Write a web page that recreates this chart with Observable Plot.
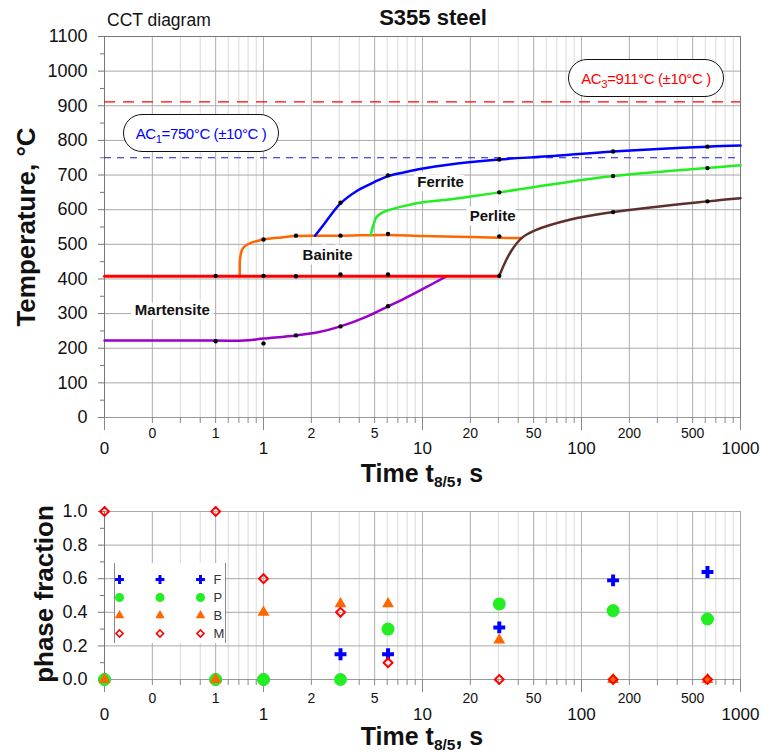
<!DOCTYPE html>
<html>
<head>
<meta charset="utf-8">
<script src="https://cdn.jsdelivr.net/npm/d3@7"></script>
<script src="https://cdn.jsdelivr.net/npm/@observablehq/plot@0.6"></script>
<style>
  body { margin: 0; background: #fff; font-family: "Liberation Sans", Arial, sans-serif; }
  #wrap { position: relative; width: 762px; height: 756px; overflow: hidden; background: #fff; }
  .abs { position: absolute; white-space: nowrap; line-height: 1; color: #111; }
  .ylab { font-weight: bold; font-size: 26px; transform: translate(-50%, -50%) rotate(-90deg); }
  .xlab { font-weight: bold; font-size: 25px; transform: translateX(-50%); }
  .xlab sub { font-size: 62%; vertical-align: -0.3em; }
  .acbox { box-sizing: border-box; width: 156px; height: 38px; border: 1.5px solid #111; border-radius: 19px;
           background: #fff; display: flex; align-items: center; justify-content: center;
           font-size: 15px; letter-spacing: -0.4px; }
  .acbox sub { font-size: 75%; vertical-align: -0.35em; line-height: 0; }
  #legend { box-sizing: border-box; width: 112px; height: 80px; background: #fff;
            border-left: 1px solid #888; border-right: 1px solid #888; }
</style>
</head>
<body>
<div id="wrap">
  <div id="topChart" class="abs" style="left:0;top:0"></div>
  <div id="bottomChart" class="abs" style="left:0;top:490px"></div>

  <div class="abs" style="left:107px;top:12px;font-size:17.5px">CCT diagram</div>
  <div class="abs" style="left:433px;top:7px;font-size:22px;font-weight:bold;transform:translateX(-50%)">S355 steel</div>
  <div class="abs ylab" style="left:26px;top:227px">Temperature, °C</div>
  <div class="abs xlab" style="left:422px;top:461px">Time t<sub>8/5</sub>, s</div>
  <div class="abs ylab" style="left:44px;top:594px">phase fraction</div>
  <div class="abs xlab" style="left:422px;top:724px">Time t<sub>8/5</sub>, s</div>

  <div class="abs acbox" style="left:123px;top:114px;color:#0000ff"><span>AC<sub>1</sub>=750°C (±10°C )</span></div>
  <div class="abs acbox" style="left:568px;top:59px;color:#ff0000"><span>AC<sub>3</sub>=911°C (±10°C )</span></div>

  <div id="legend" class="abs" style="left:114px;top:563px"></div>
</div>
<script>
// ---------- axis ticks & labels ----------
const decadeTicks = [0.1, 1, 10, 100, 1000];
const decadeLabels = ["0", "1", "10", "100", "1000"];
const midTicks = [0.2, 0.5, 2, 5, 20, 50, 200, 500];
const midLabels = ["0", "1", "2", "5", "20", "50", "200", "500"];
const tempTicks = [0, 100, 200, 300, 400, 500, 600, 700, 800, 900, 1000, 1100];
const tempMinorTicks = [50, 150, 250, 350, 450, 550, 650, 750, 850, 950, 1050];
const fracTicks = [0, 0.2, 0.4, 0.6, 0.8, 1.0];
const fracMinorTicks = [0.1, 0.3, 0.5, 0.7, 0.9];

// ---------- critical temperatures ----------
const ac3 = 911;
const ac1 = 750;

// ---------- CCT curves (time s, temperature °C) ----------
const msT = [0.1, 30.4];
const msC = [408, 408];

const martT = [0.1, 0.5, 0.75, 1.0, 1.6, 2.2, 3.05, 4.5, 6.07, 7.37, 9.86, 14.2];
const martC = [222, 222, 222, 228, 237, 246, 263, 292, 321, 339, 369, 408];

const bainT = [0.71, 0.71, 0.72, 0.74, 0.8, 0.9, 1.0, 1.3, 1.6, 2.1, 3.05, 6.07, 10, 20, 30.4, 42];
const bainC = [408, 450, 472, 488, 501, 509, 514, 520, 524, 525, 525, 527, 524, 521, 519, 518];

const ferT = [2.11, 2.42, 3.05, 3.93, 5.0, 6.07, 7.73, 9.86, 14.5, 30.4, 62, 158, 620, 1000];
const ferC = [525, 560, 618, 656, 680, 697, 708, 718, 730, 745, 754, 768, 782, 785];

const perT = [4.72, 4.8, 4.89, 5.13, 5.51, 6.07, 7.73, 9.86, 15.2, 30.4, 158, 620, 1000];
const perC = [527, 540, 554, 578, 590, 598, 611, 621, 630, 650, 697, 720, 728];

const perEndT = [30.4, 33, 36.4, 42, 51, 83, 158, 620, 1000];
const perEndC = [409, 447, 483, 518, 540, 570, 593, 624, 633];

// measured points
const ptT = [0.5, 1, 1.6, 3.05, 6.07,
             0.5, 1, 1.6, 3.05, 6.07, 30.4,
             1, 1.6, 3.05, 6.07, 30.4,
             3.05, 6.07, 30.4, 158, 620,
             30.4, 158, 620,
             158, 620];
const ptC = [220, 214, 237, 263, 321,
             409, 409, 408, 413, 413, 409,
             514, 525, 525, 530, 523,
             620, 699, 745, 768, 782,
             650, 697, 720,
             593, 624];

// region labels
const regionNames = ["Ferrite", "Perlite", "Bainite", "Martensite"];
const regionT = [13.0, 27.6, 2.53, 0.267];
const regionC = [678, 580, 468, 309];

// ---------- phase fractions ----------
const fracTime = [0.1, 0.5, 1, 3.05, 6.07, 30.4, 158, 620];
const fracF = [0, 0, 0, 0.15, 0.15, 0.31, 0.59, 0.64];
const fracP = [0, 0, 0, 0, 0.30, 0.45, 0.41, 0.36];
const fracB = [0, 0, 0.40, 0.45, 0.45, 0.235, 0, 0];
const fracM = [1, 1, 0.60, 0.40, 0.10, 0, 0, 0];
const phaseNames = ["F", "P", "B", "M"];
const legendCols = [0, 1, 2];

// ---------- helpers ----------
const zip = (xs, ys) => xs.map((x, i) => ({x, y: ys[i]}));
const FONT = "Liberation Sans, Arial, sans-serif";
const gridMinorColor = "#dadada";
const gridMajorColor = "#b4b4b4";
const gridHColor = "#a8a8a8";

function xAxisMarks(dyMid, dyDec) {
  return [
    Plot.axisX({tickSize: 6, tickFormat: () => "", label: null, stroke: "#888"}),
    Plot.axisX({ticks: decadeTicks, tickSize: 13, tickFormat: () => "", label: null, stroke: "#888"}),
    Plot.text(midTicks, {x: d => d, text: (d, i) => midLabels[i], frameAnchor: "bottom",
      dy: dyMid, fontSize: 14, lineAnchor: "middle", fill: "#111"}),
    Plot.text(decadeTicks, {x: d => d, text: (d, i) => decadeLabels[i], frameAnchor: "bottom",
      dy: dyDec, fontSize: 17, lineAnchor: "middle", fill: "#111"})
  ];
}

// ---------- top chart ----------
const curves = [
  {T: martT, C: martC, color: "#9900cc", w: 2.5},
  {T: bainT, C: bainC, color: "#ff6600", w: 2.5},
  {T: ferT, C: ferC, color: "#0000ff", w: 2.5},
  {T: perT, C: perC, color: "#22ee22", w: 2.5},
  {T: perEndT, C: perEndC, color: "#5e2f2f", w: 2.5},
  {T: msT, C: msC, color: "#ff0000", w: 3}
];

const cctPlot = Plot.plot({
  width: 762, height: 490,
  marginLeft: 104, marginRight: 22, marginTop: 36, marginBottom: 73,
  x: {type: "log", domain: [0.1, 1000]},
  y: {domain: [0, 1100]},
  style: {fontFamily: FONT, fontSize: "14px", background: "transparent", overflow: "visible", color: "#111"},
  marks: [
    Plot.gridX({stroke: gridMinorColor, strokeOpacity: 1}),
    Plot.gridX({ticks: [...decadeTicks, ...midTicks], stroke: gridMajorColor, strokeOpacity: 1}),
    Plot.gridY({ticks: tempTicks, stroke: gridHColor, strokeOpacity: 1}),
    Plot.frame({stroke: "#777"}),
    Plot.ruleX([0.1], {stroke: "#777"}),
    Plot.ruleY([0], {stroke: "#999"}),
    Plot.axisY({ticks: tempTicks, tickFormat: d => String(d), tickSize: 6, tickPadding: 11, fontSize: 18, label: null, stroke: "#777", fill: "#111"}),
    Plot.axisY({ticks: tempMinorTicks, tickSize: 4, tickFormat: () => "", label: null, stroke: "#777"}),
    ...xAxisMarks(16, 31),
    Plot.ruleY([ac3], {stroke: "#ff0000", strokeWidth: 1.2, strokeDasharray: "11,8"}),
    Plot.ruleY([ac1], {stroke: "#1a1acc", strokeWidth: 1.1, strokeDasharray: "7,6"}),
    Plot.text(regionNames, {x: (d, i) => regionT[i], y: (d, i) => regionC[i], text: d => d,
      fontSize: 15, fontWeight: "bold", fill: "#111", stroke: "white", strokeWidth: 9}),
    ...curves.map(c => Plot.line(zip(c.T, c.C), {x: "x", y: "y", stroke: c.color, strokeWidth: c.w, curve: "catmull-rom"})),
    Plot.dot(zip(ptT, ptC), {x: "x", y: "y", r: 2.2, fill: "#000"})
  ]
});
document.getElementById("topChart").appendChild(cctPlot);

// ---------- bottom chart ----------
const phases = [
  {name: "F", vals: fracF, symbol: "cross", r: 5.0, lr: 3.7, fill: "#0000ff", stroke: "none", sw: 0},
  {name: "P", vals: fracP, symbol: "circle", r: 6.5, lr: 4.5, fill: "#22ee22", stroke: "none", sw: 0},
  {name: "B", vals: fracB, symbol: "triangle", r: 4.4, lr: 3.5, fill: "#ff6600", stroke: "none", sw: 0},
  {name: "M", vals: fracM, symbol: "diamond2", r: 4.0, lr: 3.2, fill: "none", stroke: "#ff0000", sw: 2}
];

const fracPlot = Plot.plot({
  width: 762, height: 266,
  marginLeft: 104, marginRight: 22, marginTop: 21, marginBottom: 77,
  x: {type: "log", domain: [0.1, 1000]},
  y: {domain: [0, 1]},
  style: {fontFamily: FONT, fontSize: "14px", background: "transparent", overflow: "visible", color: "#111"},
  marks: [
    Plot.gridX({stroke: gridMinorColor, strokeOpacity: 1}),
    Plot.gridX({ticks: [...decadeTicks, ...midTicks], stroke: gridMajorColor, strokeOpacity: 1}),
    Plot.gridY({ticks: fracTicks, stroke: gridHColor, strokeOpacity: 1}),
    Plot.frame({stroke: "#aaa"}),
    Plot.ruleX([0.1], {stroke: "#777"}),
    Plot.ruleY([0], {stroke: "#999"}),
    Plot.axisY({ticks: fracTicks, tickFormat: d3.format(".1f"), tickSize: 6, tickPadding: 11, fontSize: 18, label: null, stroke: "#777", fill: "#111"}),
    Plot.axisY({ticks: fracMinorTicks, tickSize: 4, tickFormat: () => "", label: null, stroke: "#777"}),
    ...xAxisMarks(19, 35),
    ...phases.map(p => Plot.dot(zip(fracTime, p.vals), {x: "x", y: "y", symbol: p.symbol, r: p.r,
      fill: p.fill, stroke: p.stroke, strokeWidth: p.sw}))
  ]
});
document.getElementById("bottomChart").appendChild(fracPlot);

// ---------- legend ----------
const legendData = d3.cross(phaseNames, legendCols).map(([name, col]) => ({name, col}));
const legendPlot = Plot.plot({
  width: 110, height: 80, margin: 0,
  x: {domain: [0, 2], range: [4, 85]},
  y: {type: "point", domain: phaseNames, range: [15, 70], padding: 0},
  axis: null,
  style: {fontFamily: FONT, fontSize: "13px", background: "transparent", overflow: "visible"},
  marks: [
    ...phases.map(p => Plot.dot(legendData.filter(d => d.name === p.name), {x: "col", y: "name",
      symbol: p.symbol, r: p.lr, fill: p.fill, stroke: p.stroke, strokeWidth: p.sw * 0.8})),
    Plot.text(phaseNames, {x: () => legendCols[2], y: d => d, text: d => d, dx: 13,
      textAnchor: "start", fontSize: 13, fill: "#333"})
  ]
});
document.getElementById("legend").appendChild(legendPlot);
</script>
</body>
</html>
